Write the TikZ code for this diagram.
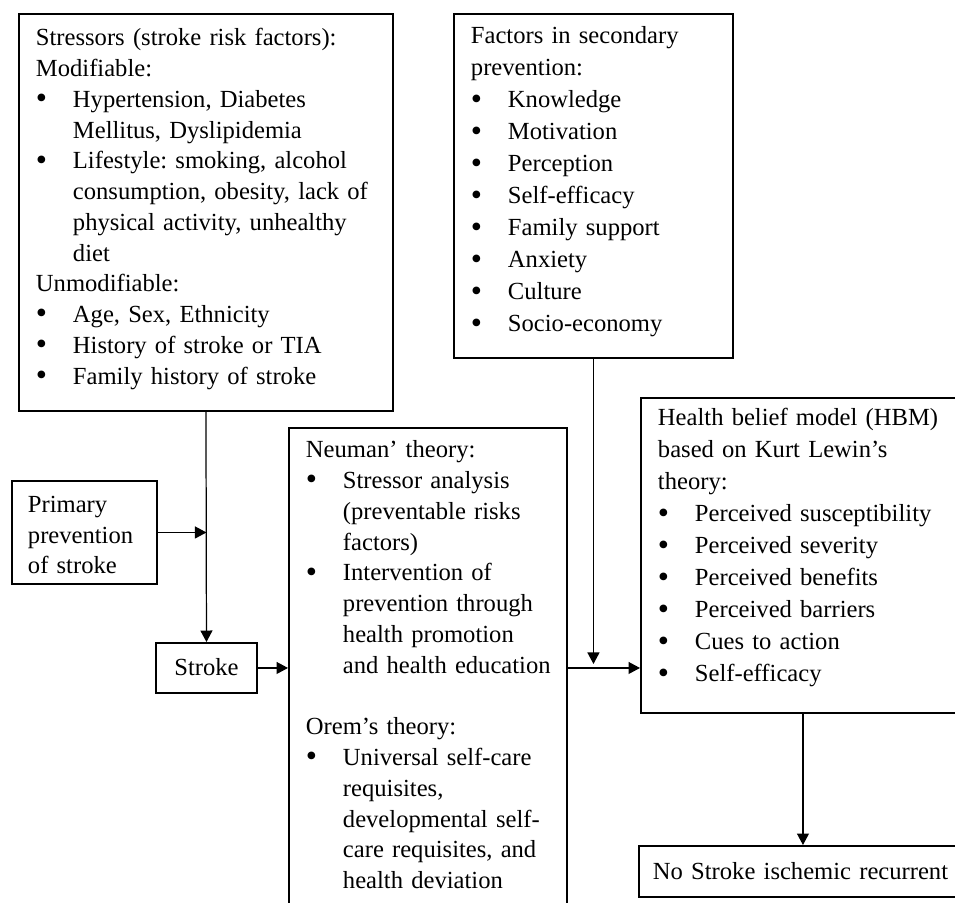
\documentclass[tikz,border=0pt]{standalone}
\usepackage{fontspec}
\setmainfont{Liberation Serif}
\usetikzlibrary{arrows.meta}
\frenchspacing
\def\bigdot{\smash{\raisebox{-0.05em}{\scalebox{1.3}{\textbullet}}}}
\def\bul#1{\mbox{\makebox[7.4mm][l]{\bigdot}#1}}
\def\ind#1{\mbox{\hspace*{7.4mm}#1}}

\begin{document}
\begin{tikzpicture}[x=0.2mm, y=-0.2mm,
	box/.style={draw, line width=1.1pt, anchor=north west, align=left, inner ysep=0pt, inner xsep=3.4mm, font=\fontsize{14pt}{17.5pt}\selectfont},
	conn/.style={line width=0.7pt, -{Triangle[length=2.3mm, width=2.4mm]}}]
	\clip (0,0) rectangle (955,903);
	\node[box, text width=68mm, text height=6.4mm, text depth=73mm] (stress) at (18,13) {Stressors (stroke risk factors):\\
		Modifiable:\\
		\bul{Hypertension, Diabetes}\\
		\ind{Mellitus, Dyslipidemia}\\
		\bul{Lifestyle: smoking, alcohol}\\
		\ind{consumption, obesity, lack of}\\
		\ind{physical activity, unhealthy}\\
		\ind{diet}\\
		Unmodifiable:\\
		\bul{Age, Sex, Ethnicity}\\
		\bul{History of stroke or TIA}\\
		\bul{Family history of stroke}};
	\node[box, text width=49mm, text height=6mm, text depth=62.8mm, font=\fontsize{14pt}{18.2pt}\selectfont] (second) at (453,13) {Factors in secondary\\
		prevention:\\
		\bul{Knowledge}\\
		\bul{Motivation}\\
		\bul{Perception}\\
		\bul{Self-efficacy}\\
		\bul{Family support}\\
		\bul{Anxiety}\\
		\bul{Culture}\\
		\bul{Socio-economy}};
	\node[box, inner xsep=3.2mm, text width=22.6mm, text height=6.4mm, text depth=14.2mm, font=\fontsize{14pt}{17.1pt}\selectfont] (primary) at (11,480) {Primary\\ prevention\\ of stroke};
	\node[box, inner xsep=0pt, align=center, text width=20.2mm, text height=6.6mm, text depth=3.4mm] (stroke) at (155,642) {Stroke};
	\node[box, text width=48.8mm, text height=6mm, text depth=90mm] (neuman) at (288,427) {Neuman' theory:\\
		\bul{Stressor analysis}\\
		\ind{(preventable risks}\\
		\ind{factors)}\\
		\bul{Intervention of}\\
		\ind{prevention through}\\
		\ind{health promotion}\\
		\ind{and health education}\\[17.5pt]
		Orem's theory:\\
		\bul{Universal self-care}\\
		\ind{requisites,}\\
		\ind{developmental self-}\\
		\ind{care requisites, and}\\
		\ind{health deviation}};
	\node[box, text width=58mm, text height=5.6mm, text depth=57.4mm, font=\fontsize{14pt}{18.2pt}\selectfont] (hbm) at (640,397) {Health belief model (HBM)\\
		based on Kurt Lewin's\\
		theory:\\
		\bul{Perceived susceptibility}\\
		\bul{Perceived severity}\\
		\bul{Perceived benefits}\\
		\bul{Perceived barriers}\\
		\bul{Cues to action}\\
		\bul{Self-efficacy}};
	\node[box, inner xsep=2.8mm, text width=60.8mm, text height=6.8mm, text depth=3.4mm] (norec) at (638,845) {No Stroke ischemic recurrent};
	\coordinate (junc) at (second.south |- neuman.east);
	\draw[conn] (stress.south) -- (stroke.north);
	\draw[conn] (primary.east) -- (primary.east -| stroke.north);
	\draw[conn] (stroke.east) -- (stroke.east -| neuman.west);
	\draw[conn] (neuman.east) -- (neuman.east -| hbm.west);
	\draw[conn] (second.south) -- ([yshift=0.8mm]junc);
	\draw[conn] (hbm.south) -- (hbm.south |- norec.north);
\end{tikzpicture}
\end{document}
